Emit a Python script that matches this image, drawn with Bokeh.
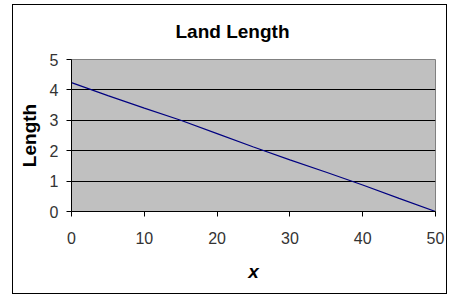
from bokeh.plotting import figure
from bokeh.models import FixedTicker, Range1d
from bokeh.embed import file_html
from bokeh.resources import INLINE

x_vals = [0, 5, 10, 15, 20, 25, 30, 35, 40, 45, 50]
length_vals = [4.24, 3.81, 3.40, 3.00, 2.56, 2.12, 1.70, 1.29, 0.87, 0.43, 0.0]
x_ticks = [0, 10, 20, 30, 40, 50]
y_ticks = [0, 1, 2, 3, 4, 5]
grid_ticks = [1, 2, 3, 4]
title_text = "Land Length"

p = figure(width=435, height=290, output_backend="svg", toolbar_location=None,
           x_range=Range1d(0, 50), y_range=Range1d(0, 5),
           min_border_left=58, min_border_right=13, min_border_top=54, min_border_bottom=84,
           margin=(4, 0, 0, 12))
p.styles = {"border": "1px solid black"}

p.title.text = title_text
p.title.text_font = "Liberation Sans"
p.title.text_font_size = "19px"
p.title.text_font_style = "bold"
p.title.text_color = "black"
p.title.align = "left"
p.title.offset = 104
p.title.standoff = 31
p.title.vertical_align = "top"

p.background_fill_color = "#C0C0C0"
p.border_fill_color = "white"
p.outline_line_color = "#808080"
p.outline_line_width = 1

p.line(x_vals, length_vals, line_color="#000080", line_width=1.2)

for ax in (p.xaxis[0], p.yaxis[0]):
    ax.axis_line_color = "black"
    ax.major_tick_line_color = "black"
    ax.major_tick_out = 5
    ax.major_tick_in = 0
    ax.minor_tick_line_color = None
    ax.major_label_text_font = "Liberation Sans"
    ax.major_label_text_font_size = "16px"
    ax.major_label_text_color = "#333333"
    ax.axis_label_text_font = "Liberation Sans"
    ax.axis_label_text_font_size = "19px"
    ax.axis_label_text_color = "black"

p.xaxis.ticker = FixedTicker(ticks=x_ticks)
p.yaxis.ticker = FixedTicker(ticks=y_ticks)
p.xaxis.axis_label = "x"
p.xaxis.axis_label_text_font_style = "bold italic"
p.xaxis.major_label_standoff = 15
p.xaxis.axis_label_standoff = 14
p.yaxis.axis_label = "Length"
p.yaxis.axis_label_text_font_style = "bold"
p.yaxis.major_label_standoff = 8
p.yaxis.axis_label_standoff = 7

p.xgrid.grid_line_color = None
p.ygrid.ticker = FixedTicker(ticks=grid_ticks)
p.ygrid.grid_line_color = "black"
p.ygrid.grid_line_width = 1

open("out.html", "w").write(file_html(p, INLINE))
